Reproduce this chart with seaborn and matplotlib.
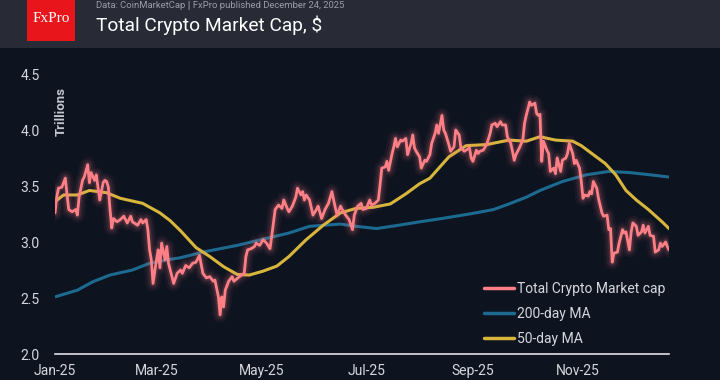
import pandas as pd
import numpy as np
import matplotlib
matplotlib.use("Agg")
import matplotlib.pyplot as plt
import matplotlib.dates as mdates
from matplotlib.patches import Rectangle
import seaborn as sns

# Values (days counted from 1 Jan 2025, trillions of $)
mcap_day = [0, 1, 2, 4, 6, 7, 8, 10, 12, 13, 14, 16, 17, 19, 20, 21, 23, 24, 25, 26,
            28, 29, 30, 31, 32, 33, 34, 36, 38, 40, 42, 44, 45, 48, 50, 51, 53, 54, 55, 56,
            57, 59, 60, 61, 62, 64, 65, 66, 69, 71, 73, 74, 76, 78, 80, 82, 84, 86, 88, 90,
            92, 93, 95, 96, 97, 98, 99, 101, 103, 104, 106, 108, 110, 111, 112, 114, 116, 117, 119, 121,
            123, 125, 126, 128, 130, 132, 133, 135, 136, 138, 140, 141, 143, 144, 145, 146, 148, 150, 152, 153,
            155, 157, 159, 161, 162, 164, 166, 167, 169, 171, 173, 174, 176, 178, 179, 181, 183, 184, 186, 188,
            189, 190, 192, 193, 194, 196, 197, 198, 199, 201, 202, 204, 205, 207, 208, 209, 210, 212, 213, 215,
            216, 218, 219, 221, 222, 223, 225, 226, 227, 229, 230, 232, 233, 235, 236, 238, 239, 241, 242, 243,
            245, 246, 247, 249, 251, 253, 254, 256, 257, 259, 260, 262, 263, 265, 266, 267, 268, 270, 272, 273,
            274, 276, 277, 279, 280, 281, 282, 283, 284, 286, 287, 288, 290, 291, 292, 294, 295, 297, 298, 299,
            301, 302, 303, 305, 306, 307, 308, 310, 311, 312, 313, 315, 316, 318, 319, 321, 322, 323, 324, 325,
            327, 328, 330, 331, 332, 334, 335, 336, 338, 339, 341, 342, 343, 345, 346, 348, 349, 351, 352, 353,
            355, 356, 357]
mcap = [3.26, 3.40, 3.48, 3.49, 3.57, 3.42, 3.29, 3.27, 3.29, 3.24, 3.40, 3.55, 3.58, 3.69, 3.53, 3.62, 3.55, 3.60, 3.49, 3.375,
        3.53, 3.55, 3.54, 3.49, 3.29, 3.125, 3.21, 3.18, 3.20, 3.23, 3.17, 3.23, 3.18, 3.15, 3.20, 3.17, 3.20, 3.11, 2.93, 2.84,
        2.63, 2.84, 2.93, 2.77, 2.99, 2.84, 2.96, 2.81, 2.63, 2.72, 2.75, 2.72, 2.79, 2.77, 2.81, 2.82, 2.88, 2.72, 2.68, 2.69,
        2.65, 2.66, 2.51, 2.35, 2.51, 2.42, 2.57, 2.65, 2.69, 2.65, 2.675, 2.70, 2.72, 2.87, 2.93, 2.94, 2.96, 2.99, 2.97, 3.02,
        2.99, 2.94, 3.05, 3.29, 3.33, 3.30, 3.375, 3.30, 3.27, 3.32, 3.40, 3.48, 3.42, 3.45, 3.375, 3.42, 3.375, 3.24, 3.29, 3.32,
        3.21, 3.29, 3.345, 3.45, 3.375, 3.24, 3.32, 3.29, 3.24, 3.20, 3.11, 3.24, 3.32, 3.345, 3.29, 3.30, 3.375, 3.33, 3.345, 3.375,
        3.51, 3.66, 3.67, 3.72, 3.64, 3.79, 3.85, 3.925, 3.85, 3.91, 3.90, 3.925, 3.78, 3.88, 3.955, 3.84, 3.81, 3.76, 3.66, 3.73,
        3.72, 3.78, 3.88, 3.97, 4.045, 3.97, 4.13, 4.00, 3.97, 3.87, 3.81, 3.85, 4.00, 3.955, 3.84, 3.81, 3.82, 3.84, 3.75, 3.72,
        3.82, 3.79, 3.81, 3.82, 3.87, 3.97, 4.045, 4.06, 4.03, 4.075, 4.045, 4.045, 3.94, 3.88, 3.81, 3.73, 3.78, 3.84, 3.91, 4.06,
        4.13, 4.25, 4.22, 4.24, 4.15, 4.13, 4.14, 3.72, 3.90, 3.82, 3.79, 3.63, 3.66, 3.61, 3.75, 3.63, 3.73, 3.75, 3.79, 3.88,
        3.79, 3.70, 3.73, 3.66, 3.54, 3.39, 3.42, 3.41, 3.45, 3.43, 3.54, 3.48, 3.39, 3.26, 3.23, 3.24, 3.11, 3.12, 2.82, 2.90,
        2.91, 2.99, 3.11, 3.08, 3.09, 2.93, 3.09, 3.17, 3.14, 3.06, 3.09, 3.15, 3.08, 3.14, 3.06, 3.05, 2.91, 2.93, 2.99, 2.96,
        3.00, 2.96, 2.93]

ma200_day = [0, 13, 22, 32, 45, 55, 65, 73, 86, 106, 125, 136, 148, 166, 175, 187, 200, 212, 225, 241,
             255, 264, 274, 282, 295, 309, 322, 334, 346, 357]
ma200 = [2.51, 2.57, 2.645, 2.705, 2.75, 2.81, 2.84, 2.86, 2.91, 2.97, 3.04, 3.08, 3.14, 3.16, 3.14, 3.12, 3.15, 3.18, 3.21, 3.25,
         3.29, 3.34, 3.40, 3.46, 3.54, 3.60, 3.63, 3.62, 3.60, 3.58]

ma50_day = [0, 5, 13, 20, 30, 38, 51, 61, 67, 73, 82, 90, 98, 106, 113, 121, 129, 136, 142, 146,
            156, 166, 175, 185, 195, 204, 212, 218, 229, 239, 251, 264, 274, 282, 291, 301, 306, 313, 320, 326,
            332, 338, 345, 353, 357]
ma50 = [3.36, 3.42, 3.42, 3.46, 3.44, 3.39, 3.345, 3.26, 3.19, 3.10, 2.95, 2.87, 2.78, 2.71, 2.705, 2.74, 2.785, 2.87, 2.96, 3.02,
        3.15, 3.26, 3.30, 3.31, 3.34, 3.43, 3.52, 3.57, 3.76, 3.86, 3.87, 3.91, 3.90, 3.94, 3.91, 3.90, 3.86, 3.78, 3.70, 3.60,
        3.46, 3.375, 3.29, 3.18, 3.12]

month_ticks = ["2025-01-01", "2025-03-01", "2025-05-01", "2025-07-01", "2025-09-01", "2025-11-01"]
y_ticks = [2.0, 2.5, 3.0, 3.5, 4.0, 4.5]

start = pd.Timestamp("2025-01-01")
df_cap = pd.DataFrame({"date": start + pd.to_timedelta(mcap_day, unit="D"), "value": mcap})
df_200 = pd.DataFrame({"date": start + pd.to_timedelta(ma200_day, unit="D"), "value": ma200})
df_50 = pd.DataFrame({"date": start + pd.to_timedelta(ma50_day, unit="D"), "value": ma50})

# Colours
bg = "#0e1320"
header = "#282b36"
pink = "#ff7f86"
blue = "#1c6a8f"
yellow = "#d8b63c"
txt = "#d5d7dc"

sns.set_style("dark")
plt.rcParams["font.family"] = ["Roboto", "DejaVu Sans"]

fig = plt.figure(figsize=(7.2, 3.8), dpi=100, facecolor=bg)
ax = fig.add_axes([55 / 720, 26 / 380, 614 / 720, 280 / 380])
ax.set_facecolor(bg)

# Header band and logo
fig.patches.append(Rectangle((0, 1 - 48 / 380), 1, 48 / 380, transform=fig.transFigure,
                             facecolor=header, edgecolor="none", zorder=0))
fig.patches.append(Rectangle((27 / 720, 1 - 41 / 380), 48 / 720, 41 / 380, transform=fig.transFigure,
                             facecolor="#e8161b", edgecolor="none", zorder=1))
fig.text(51 / 720, 1 - 19 / 380, "FxPro", family=["Liberation Serif", "DejaVu Serif"],
         color="white", fontsize=11, ha="center", va="center")
fig.text(96 / 720, 1 - 6 / 380, "Data: CoinMarketCap \u01c0 FxPro published December 24, 2025",
         color="#9a9da6", fontsize=6.8, ha="left", va="center")
fig.text(96 / 720, 1 - 25 / 380, "Total Crypto Market Cap, $", color="white",
         fontsize=13.8, ha="left", va="center")

# Moving averages
sns.lineplot(data=df_200, x="date", y="value", ax=ax, color=blue, linewidth=2.2,
             label="200-day MA", zorder=3)
sns.lineplot(data=df_50, x="date", y="value", ax=ax, color=yellow, linewidth=2.2,
             label="50-day MA", zorder=4)

# Market cap with a soft glow
for lw, a in [(11, 0.05), (7.5, 0.08), (4.5, 0.14)]:
    sns.lineplot(data=df_cap, x="date", y="value", ax=ax, color=pink, linewidth=lw,
                 alpha=a, legend=False, zorder=5)
sns.lineplot(data=df_cap, x="date", y="value", ax=ax, color=pink, linewidth=2.0,
             label="Total Crypto Market cap", zorder=6)

ax.set_xlim(start, start + pd.Timedelta(days=357))
ax.set_ylim(2.0, 4.5)
ax.set_yticks(y_ticks)
ax.set_yticklabels([f"{v:.1f}" for v in y_ticks])
ax.set_xticks(pd.to_datetime(month_ticks))
ax.xaxis.set_major_formatter(mdates.DateFormatter("%b-%y"))
ax.tick_params(axis="both", length=0, colors=txt, labelsize=10)
ax.tick_params(axis="y", pad=11)
ax.tick_params(axis="x", pad=7)
ax.set_xlabel("")
ax.set_ylabel("")
ax.grid(False)
for s in ["top", "right", "left"]:
    ax.spines[s].set_visible(False)
ax.spines["bottom"].set_color("#e0e0e0")
ax.spines["bottom"].set_linewidth(1.2)

fig.text(61 / 720, 1 - 111 / 380, "Trillions", rotation=90, color="#c3c6cc",
         fontsize=9.5, fontweight="bold", ha="center", va="center")

# Legend: market cap first, then the two averages
h, l = ax.get_legend_handles_labels()
order = [l.index("Total Crypto Market cap"), l.index("200-day MA"), l.index("50-day MA")]
leg = ax.legend([h[i] for i in order], [l[i] for i in order], loc="upper left",
                bbox_to_anchor=((478 - 55) / 614, (354 - 276) / 280), borderaxespad=0,
                frameon=False, fontsize=10, labelcolor=txt, handlelength=2.2,
                handletextpad=0.2, labelspacing=0.8)
for line in leg.get_lines():
    line.set_linewidth(2.5)
    line.set_alpha(1)

fig.savefig("out.png", dpi=100, facecolor=bg)
